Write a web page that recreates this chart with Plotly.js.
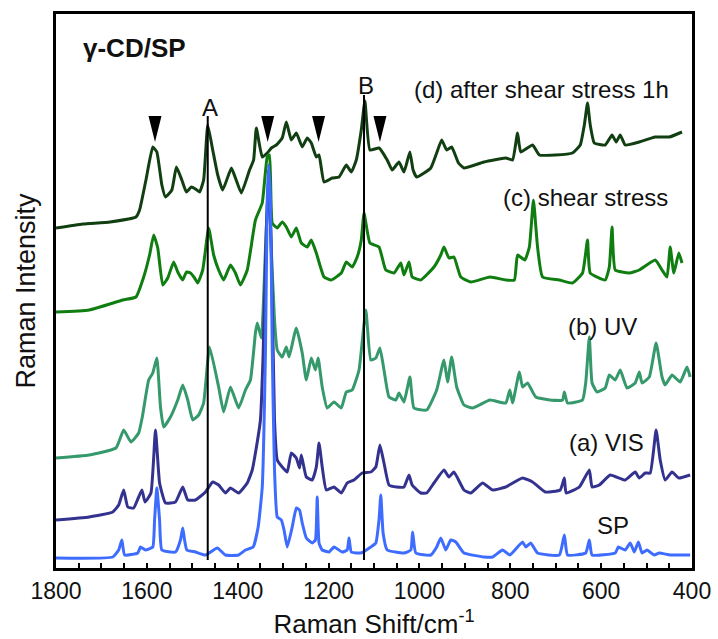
<!DOCTYPE html>
<html>
<head>
<meta charset="utf-8">
<script src="https://cdn.plot.ly/plotly-3.0.1.min.js"></script>
<style>html,body{margin:0;padding:0;background:#fff;}#chart{width:718px;height:639px;}</style>
</head>
<body>
<div id="chart"></div>
<script>
// (d) after shear stress 1h
const wnD = [1800,1741,1681,1624,1616,1602,1587,1578,1567,1559,1545,1535,1523,1513,1502,1493,1484,1475,1466,1455,1444,1433,1414,1405,1392,1374,1365,1359,1346,1335,1326,1315,1302,1293,1282,1271,1258,1247,1238,1227,1221,1210,1192,1177,1161,1150,1139,1128,1120,1109,1089,1071,1060,1045,1034,1021,1014,1006,975,962,951,940,929,914,902,858,810,795,784,777,751,736,701,663,646,637,630,624,615,591,576,567,558,547,516,481,450,422];
const intD = [340,344,346,351,358,388,421,416,383,371,378,401,388,376,381,379,376,388,443,418,393,378,400,390,375,398,408,440,411,415,420,423,430,446,428,435,421,430,425,411,413,386,390,391,403,396,408,438,467,418,420,408,398,406,396,416,398,391,400,415,428,418,421,405,400,406,410,408,435,416,423,413,413,415,423,443,465,443,425,423,433,426,433,423,426,431,431,436];

// (c) shear stress
const wnC = [1800,1727,1653,1624,1607,1594,1585,1576,1565,1554,1541,1532,1521,1513,1504,1495,1488,1477,1464,1453,1442,1431,1416,1405,1394,1379,1361,1346,1335,1330,1324,1313,1302,1293,1282,1271,1260,1247,1238,1227,1210,1194,1172,1161,1148,1137,1128,1122,1109,1089,1074,1056,1041,1034,1023,1016,997,968,953,946,935,924,909,887,845,810,791,784,768,758,749,740,729,692,663,641,630,624,591,582,576,569,538,516,481,466,455,448,440,429,422];
const intC = [256,258,268,271,291,313,333,320,283,290,306,296,288,296,295,290,285,298,340,313,298,288,303,295,283,298,348,365,411,413,345,340,346,341,331,340,325,321,328,315,291,288,295,306,301,311,328,355,325,321,298,295,305,293,306,291,288,301,313,321,310,311,291,286,291,288,288,313,308,321,368,321,291,288,285,295,328,295,288,301,341,298,295,298,308,298,291,321,295,315,305];

// (b) UV
const wnB = [1800,1727,1668,1651,1635,1618,1610,1596,1587,1578,1570,1563,1548,1532,1521,1510,1499,1486,1475,1462,1442,1431,1416,1398,1383,1372,1361,1357,1348,1339,1332,1326,1319,1313,1302,1293,1287,1271,1258,1249,1238,1229,1223,1214,1203,1188,1172,1161,1148,1133,1118,1107,1096,1087,1078,1067,1052,1045,1034,1021,1012,984,962,946,938,929,918,902,883,845,810,801,795,780,773,762,744,713,685,681,674,641,634,626,620,609,591,582,569,558,543,525,516,510,494,479,466,459,444,426,411,404];
const intB = [110,113,120,138,126,135,151,188,195,210,161,141,151,168,183,168,148,153,165,221,181,156,181,160,178,188,235,245,230,318,388,318,248,218,211,221,211,240,215,188,210,198,210,181,160,166,160,176,178,198,258,208,210,220,198,171,168,175,166,191,160,158,178,208,186,211,181,163,160,168,165,178,165,196,181,185,171,168,168,176,165,168,185,231,185,176,180,193,188,198,180,185,196,185,191,225,191,183,193,186,201,191];

// (a) VIS
const wnA = [1800,1727,1675,1662,1651,1642,1629,1611,1604,1591,1581,1572,1559,1537,1521,1510,1493,1471,1455,1442,1427,1416,1398,1379,1368,1361,1350,1344,1337,1332,1326,1319,1313,1302,1291,1282,1271,1264,1260,1249,1236,1227,1221,1214,1205,1188,1172,1159,1144,1126,1107,1096,1087,1078,1067,1050,1034,1023,1016,997,984,968,946,935,924,902,887,861,839,810,773,751,723,690,681,677,648,626,620,604,580,547,525,516,503,492,479,470,459,444,429,404];
const intA = [48,51,56,63,78,61,60,78,66,75,138,85,65,66,81,68,68,76,86,83,75,80,75,85,98,115,148,215,338,391,318,148,108,101,96,115,110,100,113,91,88,101,125,101,78,81,75,85,88,95,96,101,123,105,83,81,81,93,83,75,75,85,98,91,96,78,75,85,78,81,90,86,76,78,90,75,81,98,81,83,93,88,96,90,95,95,138,108,88,96,90,93];

// SP
const wnS = [1800,1675,1662,1655,1649,1620,1614,1603,1587,1583,1578,1572,1567,1537,1526,1521,1517,1512,1493,1471,1445,1427,1398,1383,1366,1355,1346,1339,1335,1332,1328,1324,1319,1313,1304,1298,1291,1280,1271,1264,1258,1249,1236,1229,1225,1221,1214,1199,1188,1170,1159,1155,1150,1129,1107,1096,1089,1085,1080,1071,1034,1019,1015,1008,975,962,953,942,931,920,902,858,839,817,801,773,766,755,740,692,681,674,634,626,620,569,562,547,536,527,518,510,499,483,472,448,404];
const intS = [10,11,18,28,13,15,21,18,21,48,80,48,18,16,28,40,28,18,16,13,20,13,13,18,21,41,81,215,368,403,368,218,98,51,48,38,21,41,60,58,45,30,25,28,71,25,18,16,21,16,18,30,16,15,21,25,48,73,35,18,15,18,36,15,13,21,30,18,28,26,15,11,11,18,13,26,21,25,15,13,33,13,15,28,13,15,21,18,25,16,26,15,18,13,15,13,13];

// marker positions (cm-1)
const triangleWn = [1582, 1334, 1222, 1087];
const bandLabels = ["A", "B"];
const bandWn = [1466, 1122];
const bandTop = [452, 473];

const seriesNames = ["(d) after shear stress 1h", "(c) shear stress", "(b) UV", "(a) VIS", "SP"];
const seriesColors = ["#123f12", "#0f7d10", "#35996b", "#33338f", "#3d6cff"];

const xs = [wnD, wnC, wnB, wnA, wnS];
const ys = [intD, intC, intB, intA, intS];

const FONT = "Liberation Sans, Arial, sans-serif";

const traces = xs.map((x, i) => ({
  type: "scatter", mode: "lines", name: seriesNames[i],
  x: x, y: ys[i],
  line: {color: seriesColors[i], width: 3, shape: "spline", smoothing: 0.4},
  hoverinfo: "skip"
}));

const shapes = [];
bandWn.forEach((w, i) => {
  shapes.push({type: "line", xref: "x", yref: "y", x0: w, x1: w, y0: 8, y1: bandTop[i],
    line: {color: "#000", width: 2}});
});
triangleWn.forEach(w => {
  shapes.push({type: "path", xref: "x", yref: "y", xsizemode: "pixel", ysizemode: "pixel",
    xanchor: w, yanchor: 439, path: "M-6.5,13L6.5,13L0,-13Z",
    fillcolor: "#000", line: {color: "#000", width: 0}});
});

const annFont = {family: FONT, size: 24, color: "#111"};
const annotations = [
  {x: 1745, y: 520, text: "<b>γ-CD/SP</b>", xanchor: "left", font: {family: FONT, size: 26, color: "#111"}},
  {x: 446, y: 479, text: seriesNames[0], xanchor: "right", font: annFont},
  {x: 448, y: 371, text: seriesNames[1], xanchor: "right", font: annFont},
  {x: 516, y: 242, text: seriesNames[2], xanchor: "right", font: annFont},
  {x: 501, y: 126, text: seriesNames[3], xanchor: "right", font: annFont},
  {x: 535, y: 43, text: seriesNames[4], xanchor: "right", font: annFont},
  {x: 1462, y: 461, text: bandLabels[0], xanchor: "center", font: annFont},
  {x: 1118, y: 483, text: bandLabels[1], xanchor: "center", font: annFont}
].map(a => Object.assign({xref: "x", yref: "y", showarrow: false, yanchor: "middle"}, a));

const layout = {
  width: 718, height: 639,
  margin: {l: 56, r: 26, t: 14, b: 71},
  paper_bgcolor: "#fff", plot_bgcolor: "#fff",
  showlegend: false,
  font: {family: FONT, color: "#111"},
  xaxis: {
    range: [1800, 400], dtick: 200, tick0: 0,
    ticks: "inside", ticklen: 5, tickwidth: 2, tickcolor: "#000",
    minor: {dtick: 50, ticks: "inside", ticklen: 5, tickwidth: 2, tickcolor: "#000"},
    showline: true, mirror: true, linecolor: "#000", linewidth: 3,
    showgrid: false, zeroline: false,
    tickfont: {family: FONT, size: 23, color: "#111"},
    title: {text: "Raman Shift/cm<sup>-1</sup>", font: {family: FONT, size: 26, color: "#111"}, standoff: 19}
  },
  yaxis: {
    range: [0, 554], showticklabels: false, ticks: "",
    showline: true, mirror: true, linecolor: "#000", linewidth: 3,
    showgrid: false, zeroline: false,
    title: {text: "Raman Intensity", font: {family: FONT, size: 27, color: "#111"}, standoff: 10}
  },
  shapes: shapes,
  annotations: annotations
};

Plotly.newPlot("chart", traces, layout, {staticPlot: true, displayModeBar: false});
</script>
</body>
</html>
